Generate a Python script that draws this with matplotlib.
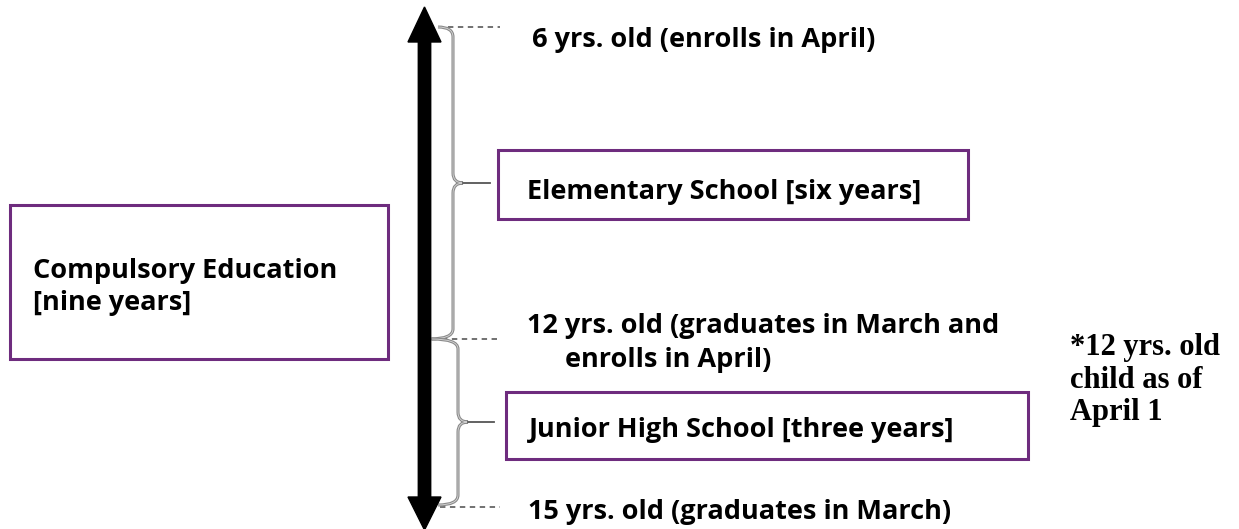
import numpy as np
import matplotlib.pyplot as plt
from matplotlib.path import Path
from matplotlib.patches import PathPatch, Rectangle

# text content
age_labels = ["6 yrs. old (enrolls in April)",
              "12 yrs. old (graduates in March and",
              "enrolls in April)",
              "15 yrs. old (graduates in March)"]
stage_labels = ["Elementary School [six years]",
                "Junior High School [three years]"]
compulsory_label = "Compulsory Education\n[nine years]"
note_label = "*12 yrs. old\nchild as of\nApril 1"

# milestone rows (pixel y) : start, switch, end
milestones = [27, 339, 507]

W, H = 1239, 529
fig = plt.figure(figsize=(W / 100, H / 100), dpi=100)
ax = fig.add_axes([0, 0, 1, 1])
ax.set_xlim(0, W)
ax.set_ylim(H, 0)
ax.axis('off')

purple = '#6e2c7e'
sans = ['Open Sans', 'DejaVu Sans']
fs = 19.5

# big double headed arrow
cx, sw, hw = 424.5, 6.2, 16.5
top_tip, top_base = 7, 42
bot_tip, bot_base = 530, 497
ax.fill([cx, cx + hw, cx + sw, cx + sw, cx + hw, cx, cx - hw, cx - sw, cx - sw, cx - hw],
        [top_tip, top_base, top_base, bot_base, bot_base, bot_tip, bot_base, bot_base, top_base, top_base],
        color='black', zorder=3)


def brace(x0, y0, y1, xl0, xl1, tip, r=10):
    ym = (y0 + y1) / 2
    v = [(xl0, y0), (x0, y0), (x0, y0 + r),
         (x0, ym - r), (x0, ym), (x0 + r, ym),
         (x0, ym), (x0, ym + r),
         (x0, y1 - r), (x0, y1), (xl1, y1)]
    c = [Path.MOVETO, Path.CURVE3, Path.CURVE3,
         Path.LINETO, Path.CURVE3, Path.CURVE3,
         Path.CURVE3, Path.CURVE3,
         Path.LINETO, Path.CURVE3, Path.CURVE3]
    ax.add_patch(PathPatch(Path(v, c), fc='none', ec='#8a8a8a', lw=2.2, zorder=2))
    ax.add_patch(PathPatch(Path(v, c), fc='none', ec='#d8d8d8', lw=0.6, zorder=2))
    ax.plot([x0 + r, tip], [ym, ym], color='#555555', lw=1.3, zorder=2)


brace(453, milestones[0], milestones[1], 438, 430, 490)
brace(458, milestones[1], milestones[2] - 2, 432, 438, 494)

for y, x0 in zip(milestones, [438, 432, 440]):
    ax.plot([x0, 500], [y, y], color='#666666', lw=1.3, ls=(0, (3, 2.5)), zorder=1)

# boxes
ax.add_patch(Rectangle((10, 205), 378, 154, fc='white', ec=purple, lw=2.2))
ax.add_patch(Rectangle((498, 150), 470, 69, fc='white', ec=purple, lw=2.2))
ax.add_patch(Rectangle((506, 392), 522, 67, fc='white', ec=purple, lw=2.2))

ax.text(33, 287, compulsory_label, family=sans, weight='bold', fontsize=fs,
        va='center', ha='left', linespacing=1.3)
ax.text(527, 192, stage_labels[0], family=sans, weight='bold', fontsize=fs, va='center')
ax.text(529, 430, stage_labels[1], family=sans, weight='bold', fontsize=fs, va='center')

ax.text(532, 40, age_labels[0], family=sans, weight='bold', fontsize=fs, va='center')
ax.text(527, 326, age_labels[1], family=sans, weight='bold', fontsize=fs, va='center')
ax.text(565, 360, age_labels[2], family=sans, weight='bold', fontsize=fs, va='center')
ax.text(528, 512, age_labels[3], family=sans, weight='bold', fontsize=fs, va='center')

ax.text(1070, 380, note_label, family=['Liberation Serif', 'DejaVu Serif'], weight='bold',
        fontsize=22, va='center', ha='left', linespacing=1.16)

fig.savefig('out.png', dpi=100)
